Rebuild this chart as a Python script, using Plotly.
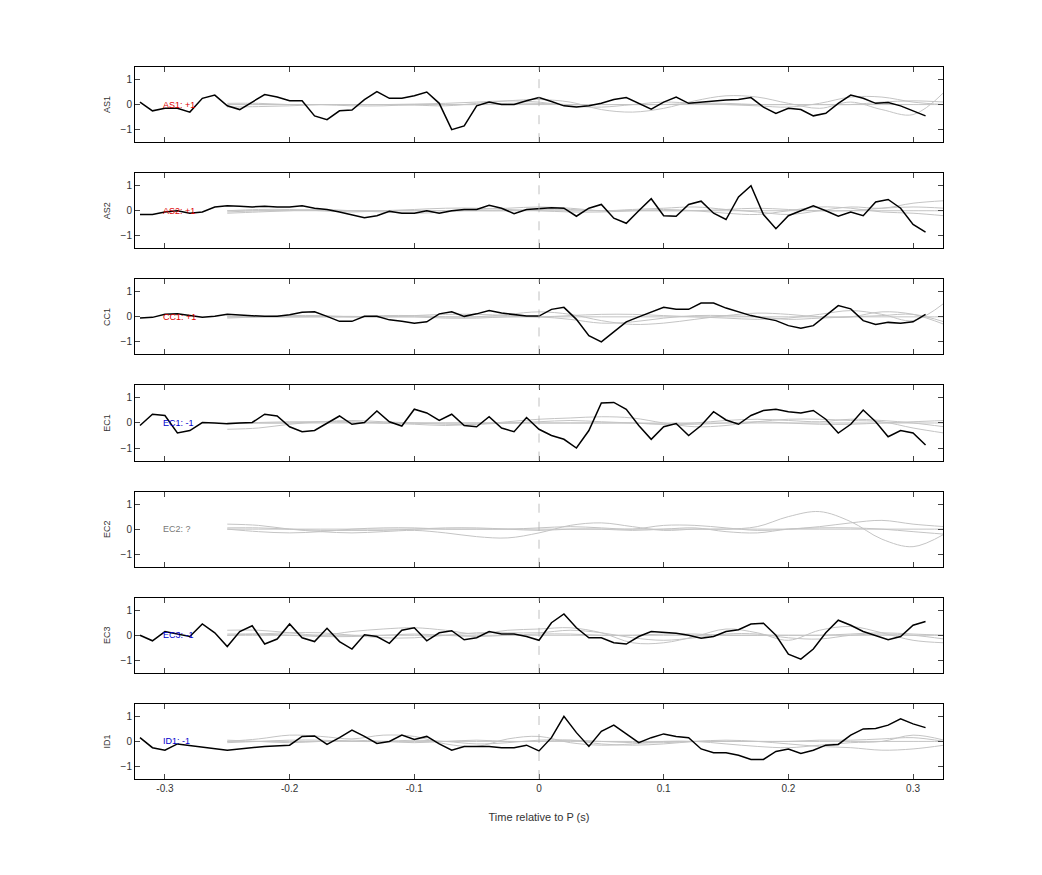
import plotly.graph_objects as go
from plotly.subplots import make_subplots

t = [round(-0.32 + 0.01*i, 2) for i in range(64)]
tg = [round(-0.25 + 0.025*i, 3) for i in range(24)]

channels = ["AS1", "AS2", "CC1", "EC1", "EC2", "EC3", "ID1"]
labels = ["AS1: +1", "AS2: +1", "CC1: +1", "EC1: -1", "EC2: ?", "EC3: -1", "ID1: -1"]
label_colors = ["#dd0000", "#dd0000", "#dd0000", "#0000cc", "#777777", "#0000cc", "#0000cc"]

AS1 = [0.1,-0.25,-0.15,-0.15,-0.3,0.25,0.38,-0.05,-0.2,0.1,0.4,0.3,0.15,0.15,-0.45,-0.6,-0.25,-0.22,0.2,0.52,0.25,0.25,0.35,0.5,0.05,-1.0,-0.85,-0.05,0.1,0,0,0.15,0.28,0.12,-0.05,-0.1,-0.05,0.05,0.2,0.28,0.05,-0.18,0.1,0.3,0.05,0.1,0.15,0.18,0.2,0.28,-0.1,-0.35,-0.15,-0.2,-0.45,-0.35,0.05,0.38,0.25,0.05,0.08,-0.05,-0.25,-0.45]
AS2 = [-0.15,-0.15,-0.05,0,-0.1,-0.05,0.15,0.2,0.18,0.15,0.18,0.15,0.15,0.2,0.1,0.05,-0.05,-0.18,-0.28,-0.2,-0.02,-0.1,-0.1,0,-0.1,0,0.05,0.05,0.22,0.1,-0.12,0.05,0.1,0.12,0.1,-0.22,0.1,0.25,-0.3,-0.5,0,0.48,-0.2,-0.22,0.25,0.38,-0.1,-0.35,0.55,1.0,-0.15,-0.72,-0.2,0,0.2,0,-0.22,-0.05,-0.2,0.35,0.45,0.1,-0.55,-0.85]
CC1 = [-0.05,-0.02,0.1,0.12,0.05,-0.02,0.02,0.1,0.07,0.04,0.02,0.02,0.08,0.18,0.2,0.02,-0.18,-0.18,0.02,0.02,-0.12,-0.18,-0.25,-0.2,0.12,0.2,0.02,0.12,0.25,0.15,0.1,0.03,0.03,0.3,0.38,-0.1,-0.75,-1.0,-0.6,-0.2,0,0.2,0.38,0.3,0.3,0.55,0.55,0.35,0.2,0.05,-0.05,-0.15,-0.35,-0.45,-0.35,0.05,0.45,0.32,-0.15,-0.3,-0.22,-0.25,-0.2,0.1]
EC1 = [-0.1,0.35,0.3,-0.4,-0.3,0.02,0,-0.03,0,0.02,0.35,0.28,-0.15,-0.35,-0.3,0,0.28,-0.05,0.02,0.48,0.05,-0.12,0.55,0.4,0.1,0.35,-0.1,-0.15,0.25,-0.2,-0.35,0.22,-0.25,-0.5,-0.65,-1.0,-0.3,0.8,0.82,0.55,-0.1,-0.65,-0.15,-0.02,-0.5,-0.1,0.45,0.12,-0.05,0.3,0.5,0.55,0.45,0.4,0.5,0.15,-0.4,-0.05,0.52,0.05,-0.55,-0.3,-0.4,-0.88]
EC2 = None
EC3 = [0,-0.22,0.15,0.05,-0.05,0.45,0.1,-0.45,0.15,0.38,-0.35,-0.15,0.45,-0.1,-0.25,0.28,-0.25,-0.55,0.02,-0.05,-0.32,0.2,0.3,-0.22,0.1,0.18,-0.18,-0.1,0.15,0.05,0.05,-0.05,-0.2,0.5,0.85,0.3,-0.1,-0.1,-0.3,-0.35,-0.05,0.15,0.12,0.08,0,-0.12,-0.05,0.15,0.22,0.45,0.48,0,-0.75,-0.95,-0.55,0.1,0.6,0.4,0.15,0,-0.18,-0.05,0.4,0.55]
ID1 = [0.15,-0.25,-0.35,-0.1,None,None,None,-0.35,-0.3,-0.25,-0.2,None,-0.15,0.2,0.22,-0.12,0.15,0.45,0.2,-0.08,0,0.25,0.08,0.2,-0.1,-0.35,-0.2,-0.2,-0.2,-0.25,-0.25,-0.15,-0.38,0.15,1.0,0.35,-0.2,0.4,0.65,0.3,-0.05,0.15,0.3,0.2,0.15,-0.3,-0.45,-0.45,-0.55,-0.72,-0.72,-0.4,-0.3,-0.48,-0.35,-0.15,-0.12,0.25,0.5,0.52,0.65,0.9,0.7,0.55]
black = [AS1, AS2, CC1, EC1, EC2, EC3, ID1]

# gray reference traces, sampled every 0.025 s from -0.25 to 0.325
G_AS1 = [
 [0,0,0,0,0,0,-0.02,-0.05,0.05,0.15,0.2,0.1,-0.2,-0.3,-0.15,0.15,0.35,0.3,0.05,-0.15,0.1,-0.2,-0.4,0.5],
 [-0.1,-0.08,-0.05,0,0,0,0.02,0.05,0.1,0.15,0.1,-0.05,-0.1,0,0.1,0.05,0,-0.05,-0.1,0.05,0.3,0.3,0.1,0],
 [0.05,0.05,0,0,-0.05,-0.05,0,0,0,0.05,0.05,0,0,0,0,0.05,0.05,0,0,0,0,0.1,0.15,0.1],
 [0,0,0,0,0,0,0,0,0,0,0,0,0,0,0,0,0,0,0,0,0,0,0,0],
]
G_AS2 = [
 [-0.1,-0.05,0,0.05,0,-0.05,-0.1,-0.05,0.05,0.1,0.15,0.1,0,0.05,0.1,0.15,0.05,-0.05,-0.15,0,0.15,0.1,0.3,0.4],
 [0,0.05,0.05,0,-0.05,0,0.05,0.1,0.1,0.05,0,-0.05,-0.05,0,0.05,0,-0.1,-0.15,0,0.15,0.1,-0.05,-0.1,-0.2],
 [-0.05,0,0.02,0.02,0,0,0,0,0,0,0.05,0.05,0,0,0,0,0.05,0.1,0.05,0,0,0.1,0.15,0.1],
 [0,0,0,0,0,0,0,0,0,0,0,0,0,0,0,0,0,0,0,0,0,0,0,0],
]
G_CC1 = [
 [0,0,0,0,0,0.05,0.05,0,0,0.1,0.2,0.1,-0.15,-0.3,-0.25,-0.1,0.05,0.15,0.1,0,0,0.2,0.1,-0.3],
 [-0.05,0,0.05,0.05,0,0,0.05,0.1,0.1,0.05,0,0.05,0.1,0.1,0.05,0,-0.05,-0.1,-0.05,0.1,0.25,0.1,-0.15,0.55],
 [0,0,0,0.02,0.02,0,0,-0.05,-0.05,0,0,-0.1,-0.25,-0.2,-0.05,0.05,0.05,0,-0.1,-0.05,0,0.05,0.1,-0.2],
 [0,0,0,0,0,0,0,0,0,0,0,0,0,0,0,0,0,0,0,0,0,0,0,0],
]
G_EC1 = [
 [-0.25,-0.2,-0.05,0.05,0.1,0.05,0,-0.05,-0.05,0.05,0.15,0.2,0.25,0.2,0,-0.15,-0.1,0.05,0.15,0.15,0.1,0.05,-0.2,-0.4],
 [0,0,0,0.05,0.05,0,-0.05,-0.1,-0.05,0,0.05,0.1,0.05,0,-0.05,0,0.1,0.15,0.1,0.05,0.15,0.1,0,-0.15],
 [0,0.02,0.05,0.05,0.02,0,0,0,0,0,0,0,0,0,-0.05,-0.05,0,0.05,0,-0.05,-0.05,0,0.05,0.1],
 [0,0,0,0,0,0,0,0,0,0,0,0,0,0,0,0,0,0,0,0,0,0,0,0],
]
G_EC2 = [
 [0.2,0.15,0,-0.1,-0.15,-0.1,-0.05,-0.15,-0.3,-0.35,-0.15,0.15,0.25,0.1,-0.05,0,0,0.1,0.5,0.7,0.3,-0.4,-0.7,-0.2],
 [0,-0.1,-0.15,-0.1,0,0.05,0.05,0,0,0,0.05,0.1,0.05,0,0.15,0.15,0.05,-0.05,0,0.1,0.25,0.35,0.2,0.1],
 [0.05,0.05,0,-0.05,-0.05,-0.05,0,0.05,0.05,0,-0.05,0,0,-0.05,0,0.05,-0.1,-0.15,0,0.05,0.05,0,-0.1,-0.2],
 [0,0,0,0,0,0,0,0,0,0,0,0,0,0,0,0,0,0,0,0,0,0,0,0],
]
G_EC3 = [
 [0.2,0.2,0.1,0,0.15,0.25,0.3,0.2,0.05,0.2,0.25,0.3,0.1,-0.3,-0.3,-0.05,0.25,0.1,-0.2,0.2,0.35,0.1,-0.2,-0.3],
 [0,0.05,0.1,0.1,0,-0.1,-0.1,0,0.1,0.1,0.1,0.2,0.1,-0.1,-0.2,-0.1,0.05,0.05,-0.1,-0.15,0,0.05,0,-0.15],
 [0.05,0.05,0,-0.05,-0.05,0,0.05,0,-0.05,0,0.05,0.05,0,0,0.05,0.05,0,0,0,0,0.05,0.1,0.05,0],
 [0,0,0,0,0,0,0,0,0,0,0,0,0,0,0,0,0,0,0,0,0,0,0,0],
]
G_ID1 = [
 [0,0.1,0.25,0.2,0.1,0.25,0.2,-0.1,-0.2,0.1,0.2,-0.05,-0.15,-0.1,0,0,-0.1,-0.2,-0.25,-0.15,-0.05,0,0.25,0.05],
 [-0.05,0,0.05,0.05,0,0,0.05,0,-0.1,-0.05,0.05,0.05,-0.1,-0.15,-0.1,0,0.05,0,-0.1,-0.2,-0.25,-0.35,-0.3,-0.15],
 [0.05,0,-0.05,0,0.05,0,-0.05,0,0.05,0,0,0.05,0,-0.05,-0.05,0,0,0,0,0.05,0.05,0.1,0.15,0],
 [0,0,0,0,0,0,0,0,0,0,0,0,0,0,0,0,0,0,0,0,0,0,0,0],
]
grays = [G_AS1, G_AS2, G_CC1, G_EC1, G_EC2, G_EC3, G_ID1]

xticks = [-0.3, -0.2, -0.1, 0, 0.1, 0.2, 0.3]
xticklabels = ["-0.3", "-0.2", "-0.1", "0", "0.1", "0.2", "0.3"]
yticks = [-1, 0, 1]

n = len(channels)
fig = make_subplots(rows=n, cols=1, shared_xaxes=False, vertical_spacing=0.0435)
font = "Liberation Sans, Arial, sans-serif"

for i in range(n):
    r = i + 1
    for g in grays[i]:
        fig.add_trace(go.Scatter(x=tg, y=g, mode="lines", line=dict(color="#c4c4c4", width=1, shape="spline"),
                                 showlegend=False, hoverinfo="skip"), row=r, col=1)
    if black[i] is not None:
        fig.add_trace(go.Scatter(x=t, y=black[i], mode="lines", connectgaps=True,
                                 line=dict(color="black", width=1.5), showlegend=False), row=r, col=1)
    fig.add_shape(type="line", x0=0, x1=0, y0=-1.5, y1=1.5, line=dict(color="#b0b0b0", width=0.8, dash="dash"),
                  row=r, col=1)
    fig.add_annotation(x=-0.303, y=0, text=labels[i], showarrow=False, xanchor="left",
                       font=dict(size=9, color=label_colors[i], family=font), row=r, col=1)
    fig.update_xaxes(range=[-0.324, 0.324], tickvals=xticks, ticktext=xticklabels,
                     showticklabels=(r == n), ticks="inside", ticklen=5, mirror="ticks",
                     showline=True, linecolor="black", linewidth=1, showgrid=False, zeroline=False,
                     row=r, col=1)
    fig.update_yaxes(range=[-1.5, 1.5], tickvals=yticks, ticks="inside", ticklen=5, mirror="ticks",
                     showline=True, linecolor="black", linewidth=1, showgrid=False, zeroline=False,
                     title=dict(text=channels[i], standoff=8, font=dict(size=9)), row=r, col=1)

fig.update_xaxes(title=dict(text="Time relative to P (s)", font=dict(size=11), standoff=20), row=n, col=1)
fig.update_layout(width=1042, height=875, margin=dict(l=127, r=107, t=59, b=104),
                  plot_bgcolor="white", paper_bgcolor="white",
                  font=dict(family=font, size=10, color="#333333"))
fig.write_html("out.html")
